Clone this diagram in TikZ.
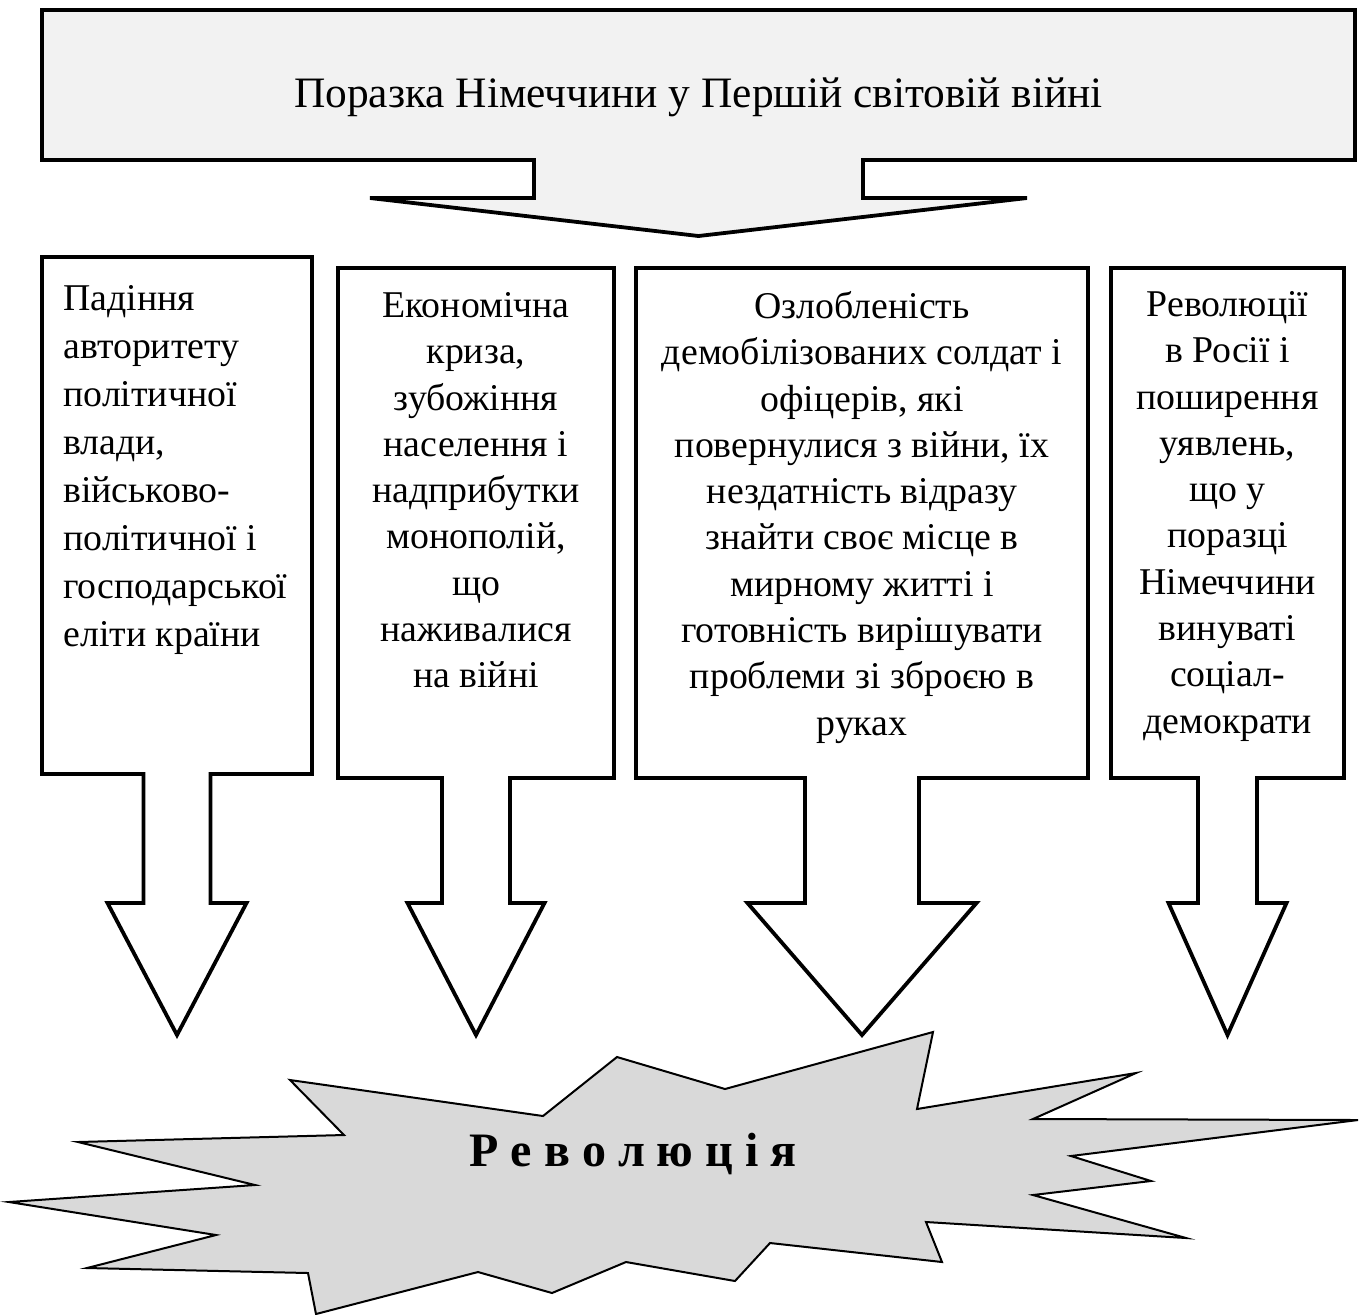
\documentclass[tikz,border=0pt]{standalone}
\usepackage{fontspec}
\setmainfont{Liberation Serif}
\usetikzlibrary{positioning, calc}
\definecolor{headfill}{HTML}{F2F2F2}
\definecolor{burstfill}{HTML}{D9D9D9}
\tikzset{
    frame/.style    = {draw=none, inner sep=0pt, outer sep=0pt, anchor=north west},
    callout/.style  = {draw, line width=1.9pt, fill=white, line join=miter},
    headcall/.style = {callout, fill=headfill},
    titel/.style    = {font=\fontsize{21.7}{26}\selectfont, inner sep=0pt, anchor=base},
    causetxt/.style = {font=\fontsize{18.9}{23.15}\selectfont, inner sep=0pt,
                       anchor=north, align=center},
    burst/.style    = {draw, line width=1pt, fill=burstfill, line join=miter},
    revtxt/.style   = {font=\fontsize{24}{28}\selectfont\bfseries, inner sep=0pt, anchor=base}
}
% box outline with a block arrow hanging from its bottom edge
\newcommand{\calloutdown}[6][callout]{%
  \draw[#1] (#2.north west) -- (#2.north east) -- (#2.south east)
    -- ($(#2.south)+(#3,0)$) -- ++(0,#4) -- ($(#2.south)+(#5,#4)$)
    -- ($(#2.south)+(0,#4+#6)$) -- ($(#2.south)+(-#5,#4)$)
    -- ($(#2.south)+(-#3,#4)$) -- ($(#2.south)+(-#3,0)$)
    -- (#2.south west) -- cycle;}

\begin{document}
\begin{tikzpicture}[x=0.5pt, y=-0.5pt]
    \useasboundingbox (0,0) rectangle (1360,1314);

    \node[frame, minimum width=656.5pt, minimum height=75pt] (defeat) at (42,10) {};
    \node[frame, minimum width=135pt, minimum height=258.5pt] (fall) at (42,257) {};
    \node[frame, minimum width=138pt, minimum height=255pt] (crisis) at (338,268) {};
    \node[frame, minimum width=226pt, minimum height=255pt] (anger) at (636,268) {};
    \node[frame, minimum width=116.5pt, minimum height=255pt] (russia) at (1111,268) {};

    \calloutdown[headcall]{defeat}{164.5}{38}{328.5}{38}
    \calloutdown{fall}{33.5}{129}{69.5}{132}
    \calloutdown{crisis}{34}{125}{68.5}{132}
    \calloutdown{anger}{57}{125}{114.5}{132}
    \calloutdown{russia}{29.5}{125}{59}{132}

    \node[titel] (defeat-txt) at ($(defeat.north)+(0,97.7)$)
        {Поразка Німеччини у Першій світовій війні};
    \node[causetxt, font=\fontsize{18.9}{24}\selectfont, anchor=north west, align=left]
        (fall-txt) at ($(fall.north west)+(21,28)$)
        {Падіння\\авторитету\\політичної\\влади,\\військово-\\політичної і\\господарської\\еліти країни};
    \node[causetxt] (crisis-txt) at ($(crisis.north)+(0,24)$)
        {Економічна\\криза,\\зубожіння\\населення і\\надприбутки\\монополій,\\що\\наживалися\\на війні};
    \node[causetxt] (anger-txt) at ($(anger.north)+(0,23)$)
        {Озлобленість\\демобілізованих солдат і\\офіцерів, які\\повернулися з війни, їх\\нездатність відразу\\знайти своє місце в\\мирному житті і\\готовність вирішувати\\проблеми зі зброєю в\\руках};
    \node[causetxt] (russia-txt) at ($(russia.north)+(0,23)$)
        {Революції\\в Росії і\\поширення\\уявлень,\\що у\\поразці\\Німеччини\\винуваті\\соціал-\\демократи};

    \draw[burst] (290,1080) -- (543,1116) -- (617,1057) -- (725,1089) -- (933,1032)
        -- (917,1109) -- (1136,1073) -- (1033,1119) -- (1358,1120) -- (1071,1156)
        -- (1151,1181) -- (1033,1195) -- (1186,1238) -- (926,1222) -- (942,1262)
        -- (770,1243) -- (735,1281) -- (626,1262) -- (552,1293) -- (478,1272)
        -- (316,1314) -- (308,1273) -- (87,1268) -- (216,1235) -- (9,1202)
        -- (255,1185) -- (78,1142) -- (344,1135) -- cycle;
    \node[revtxt] (revolution) at (633,1166) {Р е в о л ю ц і я};
\end{tikzpicture}
\end{document}
